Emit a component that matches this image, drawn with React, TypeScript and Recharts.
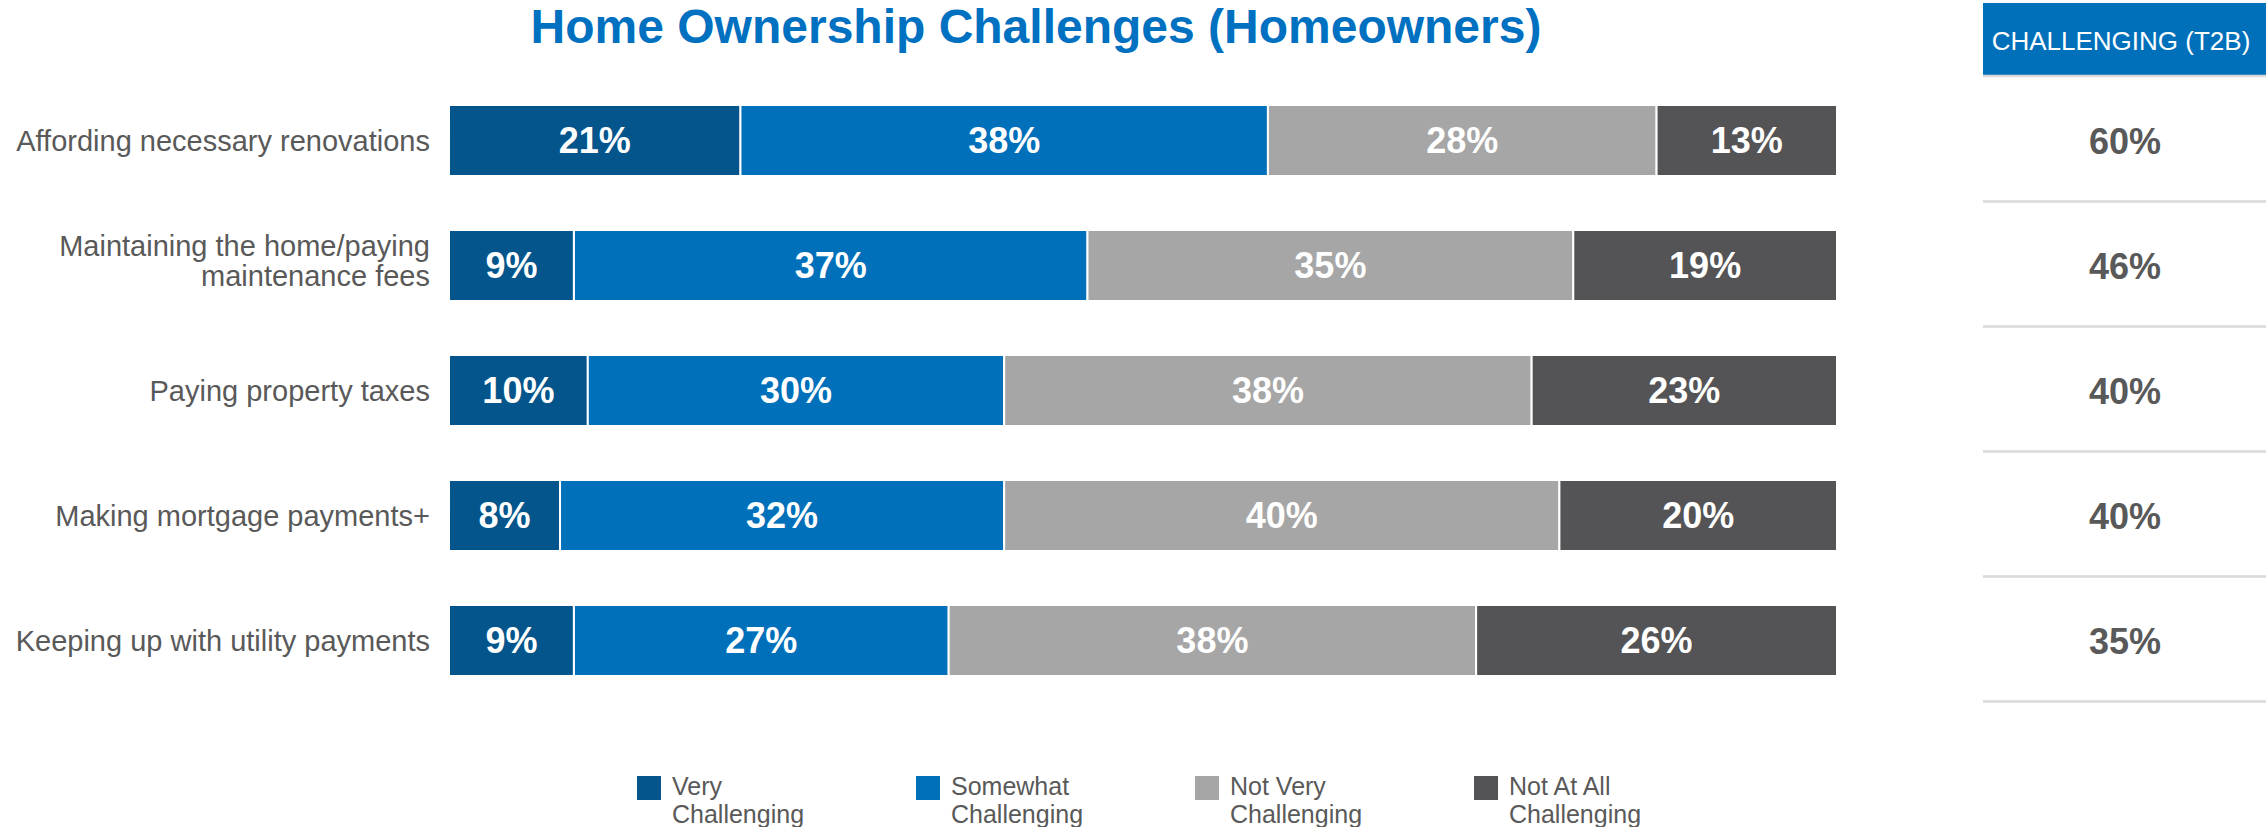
import React from 'react'
import { BarChart, Bar, XAxis, YAxis, Legend, LabelList } from 'recharts'

const categories = [
  'Affording necessary renovations',
  'Maintaining the home/paying\nmaintenance fees',
  'Paying property taxes',
  'Making mortgage payments+',
  'Keeping up with utility payments',
]
const veryChallenging = [21, 9, 10, 8, 9]
const somewhatChallenging = [38, 37, 30, 32, 27]
const notVeryChallenging = [28, 35, 38, 40, 38]
const notAtAllChallenging = [13, 19, 23, 20, 26]
const challengingT2B = [60, 46, 40, 40, 35]

const seriesKeys = ['very', 'somewhat', 'notVery', 'notAtAll']
const seriesNames = ['Very Challenging', 'Somewhat Challenging', 'Not Very Challenging', 'Not At All Challenging']
const seriesColors = ['#03558C', '#0070BA', '#A6A6A6', '#545456']

const data = categories.map((name, i) => ({
  name,
  very: veryChallenging[i],
  somewhat: somewhatChallenging[i],
  notVery: notVeryChallenging[i],
  notAtAll: notAtAllChallenging[i],
}))

const TEXT_GREY = '#595959'
const FONT = '"Liberation Sans", Arial, sans-serif'

function CategoryTick({ x, y, payload }: any) {
  const lines = String(payload.value).split('\n')
  // two-line labels sit a little above the bar centre, like the original
  const baselines = lines.length === 1 ? [10] : [-10, 20]
  return (
    <text textAnchor="end" fontSize={29} fill={TEXT_GREY} fontFamily={FONT}>
      {lines.map((line, i) => (
        <tspan key={i} x={x - 19} y={y + baselines[i]}>
          {line}
        </tspan>
      ))}
    </text>
  )
}

function T2BTick({ x, y, payload }: any) {
  const idx = categories.indexOf(payload.value)
  return (
    <g>
      <text x={x + 288} y={y + 13} textAnchor="middle" fontSize={36} fontWeight="bold" fill={TEXT_GREY} fontFamily={FONT}>
        {challengingT2B[idx]}%
      </text>
      <line x1={x + 146} x2={x + 429} y1={y + 61} y2={y + 61} stroke="#D9D9D9" strokeWidth={2.5} />
    </g>
  )
}

function LegendContent({ payload }: any) {
  return (
    <svg width={2266} height={57} style={{ display: 'block' }}>
      {(payload || []).map((entry: any) => {
        const i = seriesNames.indexOf(entry.value)
        const left = 637 + i * 279
        const cut = entry.value.lastIndexOf(' ')
        return (
          <g key={entry.value}>
            <rect x={left} y={6} width={24} height={24} fill={seriesColors[i]} />
            <text fontSize={25} fill={TEXT_GREY} fontFamily={FONT}>
              <tspan x={left + 35} y={25}>{entry.value.slice(0, cut)}</tspan>
              <tspan x={left + 35} y={53}>{entry.value.slice(cut + 1)}</tspan>
            </text>
          </g>
        )
      })}
    </svg>
  )
}

export default function App() {
  return (
    <div style={{ position: 'absolute', left: 0, top: 0, width: 2266, height: 827, fontFamily: FONT, background: '#fff' }}>
      <BarChart
        width={2266}
        height={827}
        data={data}
        layout="vertical"
        margin={{ top: 78, right: 0, bottom: 124, left: 0 }}
        barCategoryGap={0}
      >
        <XAxis type="number" domain={[0, 100]} allowDataOverflow hide />
        <YAxis
          yAxisId="left"
          type="category"
          dataKey="name"
          width={449}
          axisLine={false}
          tickLine={false}
          tickSize={0}
          tickMargin={0}
          interval={0}
          tick={<CategoryTick />}
        />
        <YAxis
          yAxisId="right"
          orientation="right"
          type="category"
          dataKey="name"
          width={429}
          axisLine={false}
          tickLine={false}
          tickSize={0}
          tickMargin={0}
          interval={0}
          tick={<T2BTick />}
        />
        <Legend
          verticalAlign="middle"
          layout="horizontal"
          width={2266}
          wrapperStyle={{ left: 0, top: 770 }}
          content={<LegendContent />}
        />
        {seriesKeys.map((key, i) => (
          <Bar
            key={key}
            yAxisId="left"
            dataKey={key}
            name={seriesNames[i]}
            stackId="a"
            fill={seriesColors[i]}
            stroke="#fff"
            strokeWidth={2}
            barSize={71}
            isAnimationActive={false}
          >
            <LabelList
              dataKey={key}
              position="center"
              fill="#fff"
              fontSize={36}
              fontWeight="bold"
              formatter={(v: any) => `${v}%`}
            />
          </Bar>
        ))}
      </BarChart>
      <svg width={2266} height={827} style={{ position: 'absolute', left: 0, top: 0, pointerEvents: 'none' }}>
        <text x={1036} y={43} textAnchor="middle" fontSize={48} fontWeight="bold" fill="#0070C0" fontFamily={FONT}>
          Home Ownership Challenges (Homeowners)
        </text>
        <rect x={1983} y={3} width={283} height={72} fill="#0070BA" />
        <line x1={1983} x2={2266} y1={76} y2={76} stroke="#D9D9D9" strokeWidth={2.5} />
        <text x={2121} y={50} textAnchor="middle" fontSize={26} fill="#fff" fontFamily={FONT}>
          CHALLENGING (T2B)
        </text>
      </svg>
    </div>
  )
}
